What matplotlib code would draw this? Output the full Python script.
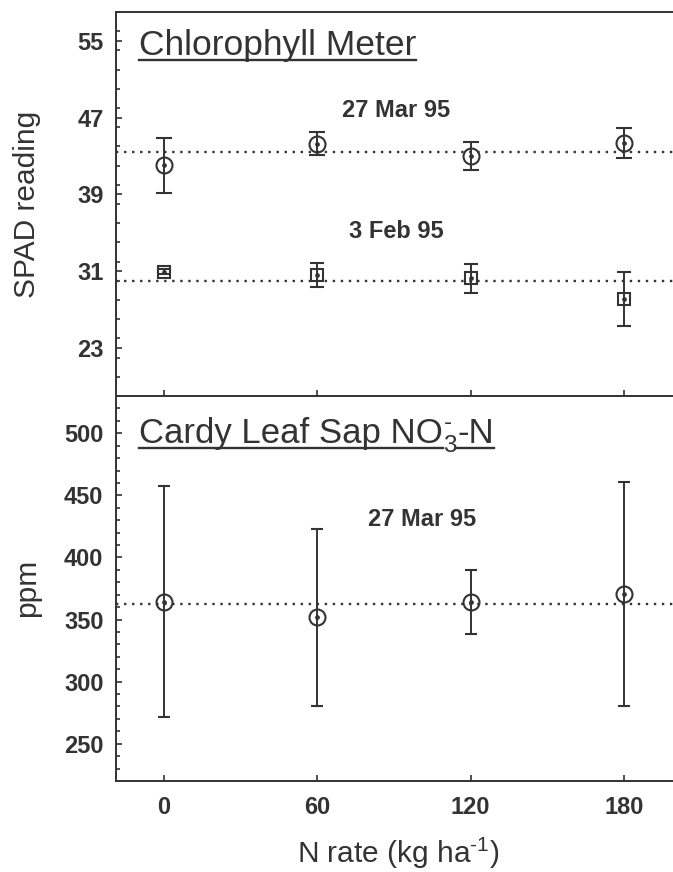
import matplotlib
matplotlib.use("Agg")
import matplotlib.pyplot as plt
from matplotlib.ticker import MultipleLocator
from matplotlib.lines import Line2D

plt.rcParams['font.family'] = ['Liberation Sans', 'DejaVu Sans']
plt.rcParams['mathtext.fontset'] = 'custom'
plt.rcParams['mathtext.rm'] = 'Liberation Sans'
plt.rcParams['mathtext.it'] = 'Liberation Sans'

# data
n_rate = [0, 60, 120, 180]
x_ticks = [0, 60, 120, 180]

spad_mar = [42.05, 44.3, 43.0, 44.35]
spad_mar_err = [2.87, 1.15, 1.47, 1.58]
spad_feb = [30.96, 30.62, 30.27, 28.08]
spad_feb_err = [0.3, 1.25, 1.5, 2.8]
spad_mar_mean = 43.4
spad_feb_mean = 30.0

sap_mar = [364.4, 351.7, 363.9, 370.6]
sap_mar_err = [93.0, 71.4, 25.6, 90.0]
sap_mar_mean = 362.8

ink = '#333333'
W, H = 673, 872

fig = plt.figure(figsize=(W / 100, H / 100), dpi=100)
left = 116 / W
ax1 = fig.add_axes([left, (H - 396) / H, 1 - left, 384 / H])
ax2 = fig.add_axes([left, (H - 781) / H, 1 - left, 385 / H])

for ax in (ax1, ax2):
    ax.set_xlim(-18.8, 199.2)
    ax.spines['right'].set_visible(False)
    for s in ('left', 'top', 'bottom'):
        ax.spines[s].set_color(ink)
        ax.spines[s].set_linewidth(1.4)
    ax.set_xticks(x_ticks)
    ax.tick_params(which='both', direction='in', color=ink, width=1.2,
                   labelsize=17, labelcolor=ink, top=False, right=False)
    ax.tick_params(which='major', length=4.5)
    ax.tick_params(which='minor', length=3.2)
    ax.tick_params(axis='y', pad=9)
    ax.tick_params(axis='x', pad=11)

# top panel: chlorophyll meter
ax1.set_ylim(18, 58)
ax1.set_yticks([23, 31, 39, 47, 55])
ax1.yaxis.set_minor_locator(MultipleLocator(2))
ax1.tick_params(axis='x', labelbottom=False)

dot = (0, (1, 2.4))
ax1.axhline(spad_mar_mean, color=ink, lw=1.7, ls=dot)
ax1.axhline(spad_feb_mean, color=ink, lw=1.7, ls=dot)
ax1.errorbar(n_rate, spad_mar, yerr=spad_mar_err, fmt='o', mfc='none', mec=ink,
             ms=11.5, mew=1.5, ecolor=ink, elinewidth=1.4, capsize=6, capthick=1.4)
ax1.errorbar(n_rate, spad_feb, yerr=spad_feb_err, fmt='s', mfc='none', mec=ink,
             ms=8.5, mew=1.5, ecolor=ink, elinewidth=1.4, capsize=5, capthick=1.4)
ax1.plot(n_rate, spad_mar, 'o', color=ink, ms=2.4)
ax1.plot(n_rate, spad_feb, 'o', color=ink, ms=2.4)
ax1.text(91, 47.7, '27 Mar 95', ha='center', va='center', fontsize=17,
         fontweight='bold', color=ink)
ax1.text(91, 35.1, '3 Feb 95', ha='center', va='center', fontsize=17,
         fontweight='bold', color=ink)

# bottom panel: leaf sap nitrate
ax2.set_ylim(220, 530)
ax2.set_yticks([250, 300, 350, 400, 450, 500])
ax2.yaxis.set_minor_locator(MultipleLocator(10))
ax2.axhline(sap_mar_mean, color=ink, lw=1.7, ls=dot)
ax2.errorbar(n_rate, sap_mar, yerr=sap_mar_err, fmt='o', mfc='none', mec=ink,
             ms=11.5, mew=1.5, ecolor=ink, elinewidth=1.4, capsize=4.5, capthick=1.4)
ax2.plot(n_rate, sap_mar, 'o', color=ink, ms=2.4)
ax2.text(101, 430.6, '27 Mar 95', ha='center', va='center', fontsize=17,
         fontweight='bold', color=ink)

for lab in ax1.get_yticklabels() + ax2.get_yticklabels() + ax2.get_xticklabels():
    lab.set_fontweight('bold')

fig.text(27 / W, 1 - 204 / H, 'SPAD reading', rotation=90, ha='center',
         va='center', fontsize=21.5, color=ink)
fig.text(27 / W, 1 - 588 / H, 'ppm', rotation=90, ha='center',
         va='center', fontsize=21.5, color=ink)
fig.text(398 / W, 1 - 863 / H, r'N rate (kg ha$^{\text{-}1}$)', ha='center',
         va='baseline', fontsize=21.5, color=ink)

# panel titles, underlined
fig.canvas.draw()
renderer = fig.canvas.get_renderer()


def underline(txt, y_px):
    bb = txt.get_window_extent(renderer)
    fig.add_artist(Line2D([bb.x0 / W, bb.x1 / W], [1 - y_px / H, 1 - y_px / H],
                          transform=fig.transFigure, color=ink, lw=1.7))
    return bb


t1 = fig.text(139 / W, 1 - 55 / H, 'Chlorophyll Meter', fontsize=25.5,
              va='baseline', color=ink)
underline(t1, 60)

t2 = fig.text(139 / W, 1 - 443 / H, 'Cardy Leaf Sap NO', fontsize=25,
              va='baseline', color=ink)
bb2 = underline(t2, 448)
t3 = fig.text(bb2.x1 / W, 1 - 443 / H, r'$_3^{\text{-}}$', fontsize=25,
              va='baseline', color=ink)
fig.canvas.draw()
bb3 = t3.get_window_extent(renderer)
t4 = fig.text(bb3.x1 / W, 1 - 443 / H, '-N', fontsize=25,
              va='baseline', color=ink)
underline(t4, 448)

fig.savefig('out.png', dpi=100, facecolor='white')
